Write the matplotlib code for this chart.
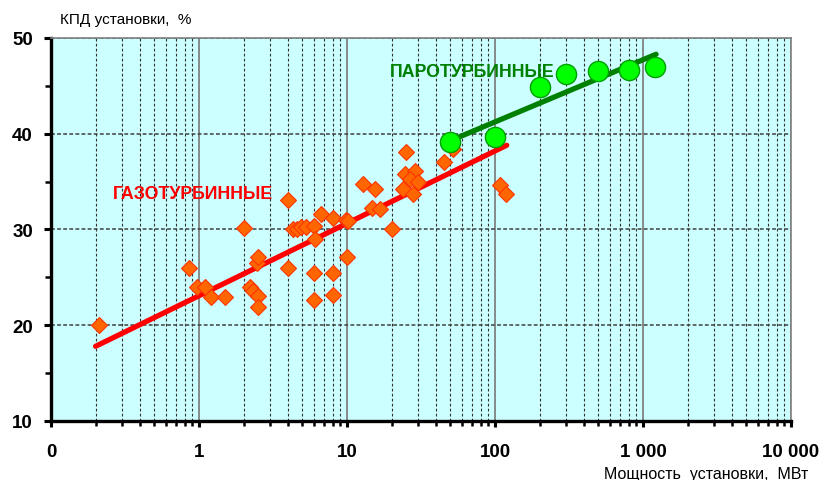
import matplotlib
matplotlib.use('Agg')
import matplotlib.pyplot as plt
from matplotlib.ticker import FixedLocator, FixedFormatter, NullFormatter

# ---- data ----
gas_x = [0.21, 0.86, 0.97, 1.1, 1.2, 1.5, 2.0, 2.2, 2.3, 2.45, 2.5, 2.5, 2.5,
         4.0, 4.0, 4.3, 4.6, 4.9, 5.3, 6.0, 6.1, 6.7, 6.0, 6.0, 8.0, 8.0, 8.0,
         9.8, 10.2, 10.0, 12.9, 15.5, 14.7, 16.7, 20, 25, 24.7, 28.8, 26.7,
         30.3, 24, 27.8, 45, 52, 108, 118]
gas_y = [20.0, 26.0, 24.0, 24.0, 22.9, 22.9, 30.2, 24.0, 23.6, 26.5, 27.1, 23.1, 21.9,
         33.1, 26.0, 30.1, 30.1, 30.3, 30.3, 30.4, 29.0, 31.6, 25.5, 22.6, 31.2, 25.5, 23.2,
         31.0, 30.9, 27.1, 34.8, 34.2, 32.2, 32.1, 30.0, 38.1, 35.8, 36.1, 35.3,
         35.0, 34.2, 33.7, 37.0, 38.4, 34.6, 33.7]
gas_fit_x = [0.2, 120]
gas_fit_y = [17.8, 38.8]

steam_x = [50, 100, 200, 300, 500, 800, 1200]
steam_y = [39.1, 39.7, 44.85, 46.2, 46.6, 46.7, 47.0]
steam_fit_x = [56, 1225]
steam_fit_y = [39.6, 48.3]

x_ticks = [0.1, 1, 10, 100, 1000, 10000]
x_tick_labels = ["0", "1", "10", "100", "1 000", "10 000"]
y_ticks = [10, 20, 30, 40, 50]

plt.rcParams['font.family'] = ['Liberation Sans', 'DejaVu Sans']

fig = plt.figure(figsize=(8.21, 4.81), dpi=100)
ax = fig.add_axes([51/821, 1-422/481, 740/821, 383/481])
ax.set_facecolor('#CCFFFF')
ax.set_xscale('log')
ax.set_xlim(0.1, 10000)
ax.set_ylim(10, 50)

# grid
ax.xaxis.set_major_locator(FixedLocator(x_ticks))
ax.xaxis.set_major_formatter(FixedFormatter(x_tick_labels))
minor = [m * 10.0**e for e in range(-1, 4) for m in range(2, 10)]
ax.xaxis.set_minor_locator(FixedLocator(minor))
ax.xaxis.set_minor_formatter(NullFormatter())
ax.yaxis.set_major_locator(FixedLocator(y_ticks))
ax.yaxis.set_minor_locator(FixedLocator([15, 25, 35, 45]))

ax.grid(which='major', axis='x', color='#808080', linestyle='-', linewidth=1.3)
ax.grid(which='minor', axis='x', color='#303030', linestyle=(0, (2.5, 2)), linewidth=0.8)
ax.grid(which='major', axis='y', color='#404040', linestyle=(0, (2.5, 1.5)), linewidth=1.1)
ax.set_axisbelow(True)

for s in ['left', 'bottom']:
    ax.spines[s].set_linewidth(2.4)
    ax.spines[s].set_color('black')
for s in ['top', 'right']:
    ax.spines[s].set_linewidth(1.2)
    ax.spines[s].set_color('#808080')

ax.tick_params(axis='x', which='major', direction='out', length=4, width=2.2,
               pad=12, labelsize=13.5)
ax.tick_params(axis='x', which='minor', direction='out', length=3.5, width=1.8)
ax.tick_params(axis='y', which='major', direction='out', length=5, width=2.2,
               pad=8, labelsize=13.5)
ax.tick_params(axis='y', which='minor', direction='out', length=4, width=1.8)
for lab in ax.get_xticklabels() + ax.get_yticklabels():
    lab.set_fontweight('bold')

# series
ax.plot(gas_fit_x, gas_fit_y, color='#FF0000', linewidth=3.8, solid_capstyle='round', zorder=3)
ax.plot(gas_x, gas_y, linestyle='none', marker='D', markersize=8.3,
        markerfacecolor='#FF6600', markeredgecolor='#FF3300', markeredgewidth=0.8, zorder=4)
ax.plot(steam_fit_x, steam_fit_y, color='#008000', linewidth=3.8, solid_capstyle='round', zorder=5)
ax.plot(steam_x, steam_y, linestyle='none', marker='o', markersize=14.5,
        markerfacecolor='#00FF00', markeredgecolor='#00A000', markeredgewidth=1.0, zorder=6)

ax.text(0.262, 33.8, 'ГАЗОТУРБИННЫЕ', color='#FF0000', fontsize=12.8,
        fontweight='bold', ha='left', va='center', zorder=7)
ax.text(19.5, 46.55, 'ПАРОТУРБИННЫЕ', color='#008000', fontsize=12.8,
        fontweight='bold', ha='left', va='center', zorder=7)

fig.text(60/821, 1-20/481, 'КПД установки,  %', fontsize=11, ha='left', va='center')
fig.text(808/821, 1-475/481, 'Мощность  установки,  МВт', fontsize=11.5, ha='right', va='center')

fig.savefig('out.png', dpi=100)
